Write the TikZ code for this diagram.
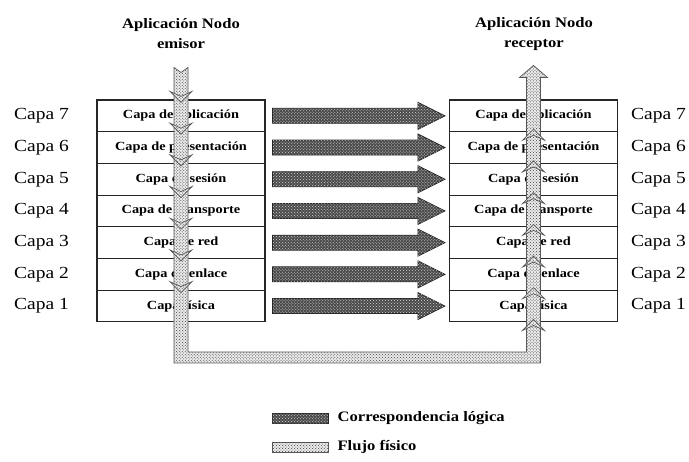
\documentclass[tikz,border=0pt]{standalone}
\usepackage{fontspec}
\setmainfont{Liberation Serif}[FakeStretch=1.15]
\usetikzlibrary{patterns,calc,positioning}
\definecolor{tinta}{HTML}{262626}
\definecolor{oscuro}{HTML}{4A4A4A}

\begin{document}
\begin{tikzpicture}[x=1bp,y=-1bp,
  capa/.style={draw=tinta,fill=white,line width=1.1pt,minimum width=168bp,minimum height=31.7bp,inner sep=0pt,font=\fontsize{12.5}{14}\selectfont\bfseries},
  lado/.style={anchor=west,inner sep=0pt,font=\fontsize{17}{19}\selectfont},
  titulo/.style={align=center,inner sep=0pt,font=\fontsize{14.5}{20}\selectfont\bfseries},
  leyenda/.style={anchor=west,inner sep=0pt,font=\fontsize{14.5}{16}\selectfont\bfseries},
  logica/.style={draw=tinta,line width=0.8pt,fill=oscuro,postaction={pattern=crosshatch dots,pattern color=white!85!black}},
  flujo/.style={draw=black!65,line width=0.7pt,fill=black!8,postaction={pattern=crosshatch dots,pattern color=black!75}}]
\useasboundingbox (0,0) rectangle (689,462);

\node[titulo] (tEm) at (181,34) {Aplicación Nodo\\emisor};
\node[titulo] (tRe) at (534,34) {Aplicación Nodo\\receptor};

\foreach \n/\t in {7/{Capa de aplicación},6/{Capa de presentación},5/{Capa de sesión},4/{Capa de transporte},3/{Capa de red},2/{Capa de enlace},1/{Capa física}} {
  \node[capa] (L\n) at (181,{115.85+31.7*(7-\n)}) {\t};
  \node[capa] (R\n) at (533.5,{115.85+31.7*(7-\n)}) {\t};
  \node[lado] (cL\n) at (14,{115.85+31.7*(7-\n)}) {Capa \n};
  \node[lado] (cR\n) at (631,{115.85+31.7*(7-\n)}) {Capa \n};
}

% flujo fisico
\coordinate (emTop) at ($(L7.north)+(0,-32)$);
\coordinate (emBot) at ($(L1.south)+(0,35)$);
\coordinate (reBot) at ($(R1.south)+(0,35)$);
\coordinate (reTop) at ($(R7.north)+(0,-34)$);
\path[flujo] ($(emTop)+(-7,0)$) -- ($(emTop)+(0,5)$) -- ($(emTop)+(7,0)$) -- ($(emBot)+(7,-5.5)$)
  -- ($(reBot)+(-7,-5.5)$) -- ($(reTop)+(-7,12)$) -- ($(reTop)+(-14,12)$) -- (reTop)
  -- ($(reTop)+(14,12)$) -- ($(reTop)+(7,12)$) -- ($(reBot)+(7,5.5)$) -- ($(emBot)+(-7,5.5)$) -- cycle;
\foreach \n in {1,...,7} {
  \path[flujo] ($(L\n.north)+(-11,-8)$) -- ($(L\n.north)+(0,3)$) -- ($(L\n.north)+(11,-8)$) -- ($(L\n.north)+(0,-3)$) -- cycle;
  \path[flujo] ($(R\n.south)+(-11,8)$) -- ($(R\n.south)+(0,-3)$) -- ($(R\n.south)+(11,8)$) -- ($(R\n.south)+(0,3)$) -- cycle;
}

% correspondencia logica
\foreach \n in {1,...,7}
  \path[logica] ($(L\n.east)+(7,-7.5)$) -- ($(R\n.west)+(-31,-7.5)$) -- ($(R\n.west)+(-31,-13.5)$) -- ($(R\n.west)+(-4,0)$)
    -- ($(R\n.west)+(-31,13.5)$) -- ($(R\n.west)+(-31,7.5)$) -- ($(L\n.east)+(7,7.5)$) -- cycle;

\node[logica,minimum width=56bp,minimum height=10bp,inner sep=0pt] (mLog) at (300,418) {};
\node[leyenda,right=9bp of mLog] (tLog) {Correspondencia lógica};
\node[flujo,minimum width=56bp,minimum height=10bp,inner sep=0pt] (mFlu) at (300,447) {};
\node[leyenda,right=9bp of mFlu] (tFlu) {Flujo físico};
\end{tikzpicture}
\end{document}
